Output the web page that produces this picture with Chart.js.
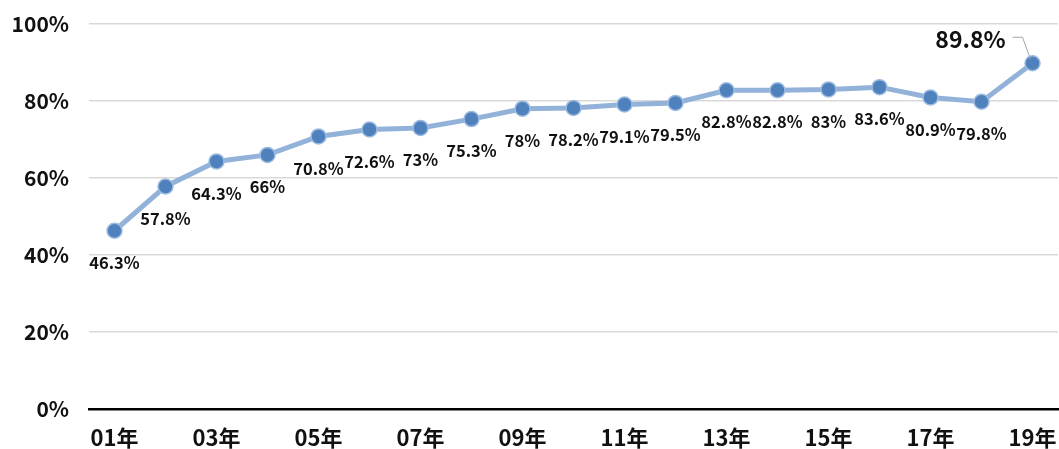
<!DOCTYPE html>
<html>
<head>
<meta charset="utf-8">
<script src="https://cdn.jsdelivr.net/npm/chart.js@4"></script>
<style>
	html, body { margin: 0; padding: 0; background: #fff; }
	#wrap { width: 1059px; height: 449px; }
</style>
</head>
<body>
<div id="wrap"><canvas id="myChart"></canvas></div>
<script>
const years = ['01年', '02年', '03年', '04年', '05年', '06年', '07年', '08年', '09年', '10年',
	'11年', '12年', '13年', '14年', '15年', '16年', '17年', '18年', '19年']
const rates = [46.3, 57.8, 64.3, 66, 70.8, 72.6, 73, 75.3, 78, 78.2,
	79.1, 79.5, 82.8, 82.8, 83, 83.6, 80.9, 79.8, 89.8]
const yTicks = [0, 20, 40, 60, 80, 100]

const fontFamily = '"Noto Sans CJK JP", "Noto Sans", sans-serif'

// stretch the plot area to the right edge like the original
const fullWidth = {
	id: 'fullWidth',
	afterLayout(chart) {
		const right = chart.width - 1
		const area = chart.chartArea
		area.right = right
		area.width = right - area.left
		const x = chart.scales.x
		x.right = right
		x.width = right - x.left
		x.configure()
	},
}

// year labels: every other category, drawn under the axis
const yearLabels = {
	id: 'yearLabels',
	afterDraw(chart) {
		const ctx = chart.ctx
		const x = chart.scales.x
		ctx.save()
		ctx.fillStyle = '#111'
		ctx.font = 'bold 22px ' + fontFamily
		ctx.textAlign = 'center'
		ctx.textBaseline = 'middle'
		years.forEach((lbl, i) => {
			if (i % 2 !== 0) return
			let px = x.getPixelForValue(i)
			const w = ctx.measureText(lbl).width
			px = Math.min(px, chart.width - w / 2)
			ctx.fillText(lbl, px, x.top + 29)
		})
		ctx.restore()
	},
}

// value labels under each point, the last one sits up-left with a leader line
const pointLabels = {
	id: 'pointLabels',
	afterDatasetsDraw(chart) {
		const ctx = chart.ctx
		const meta = chart.getDatasetMeta(0)
		ctx.save()
		ctx.fillStyle = '#111'
		ctx.textAlign = 'center'
		ctx.textBaseline = 'middle'
		meta.data.forEach((pt, i) => {
			const txt = rates[i] + '%'
			if (i === rates.length - 1) {
				ctx.font = 'bold 23px ' + fontFamily
				ctx.fillText(txt, pt.x - 62, pt.y - 24)
				ctx.strokeStyle = '#a6a6a6'
				ctx.lineWidth = 1
				ctx.beginPath()
				ctx.moveTo(pt.x - 20, pt.y - 26)
				ctx.lineTo(pt.x - 10, pt.y - 26)
				ctx.lineTo(pt.x - 2, pt.y - 4)
				ctx.stroke()
			} else {
				ctx.font = 'bold 16.5px ' + fontFamily
				ctx.fillText(txt, pt.x, pt.y + 32)
			}
		})
		ctx.restore()
	},
}

const config = {
	type: 'line',
	data: {
		labels: years,
		datasets: [
			{
				data: rates,
				borderColor: '#92b2da',
				borderWidth: 5,
				pointBackgroundColor: '#4f81bd',
				pointBorderColor: '#9dbbe0',
				pointBorderWidth: 1.5,
				pointRadius: 7.5,
				tension: 0,
			},
		],
	},
	options: {
		responsive: true,
		maintainAspectRatio: false,
		animation: false,
		layout: { padding: { top: 24, right: 1, left: 0, bottom: 0 } },
		plugins: {
			legend: { display: false },
			tooltip: { enabled: false },
		},
		scales: {
			x: {
				offset: true,
				grid: { display: false },
				border: { display: true, color: '#000', width: 2.5 },
				ticks: { display: false },
				afterFit: (s) => {
					s.height = 40
					s.paddingLeft = 0
					s.paddingRight = 0
				},
			},
			y: {
				min: 0,
				max: 100,
				afterBuildTicks: (s) => { s.ticks = yTicks.map((v) => ({ value: v })) },
				grid: { color: '#d9d9d9', lineWidth: 1.5, drawTicks: false },
				border: { display: false },
				ticks: {
					padding: 20,
					color: '#111',
					font: { family: fontFamily, size: 21, weight: 'bold' },
					callback: (v) => v + '%',
				},
				afterFit: (s) => {
					s.width = 89
					s.paddingTop = 0
					s.paddingBottom = 0
				},
			},
		},
	},
	plugins: [fullWidth, pointLabels, yearLabels],
}

const myChart = new Chart(document.getElementById('myChart'), config)
</script>
</body>
</html>
